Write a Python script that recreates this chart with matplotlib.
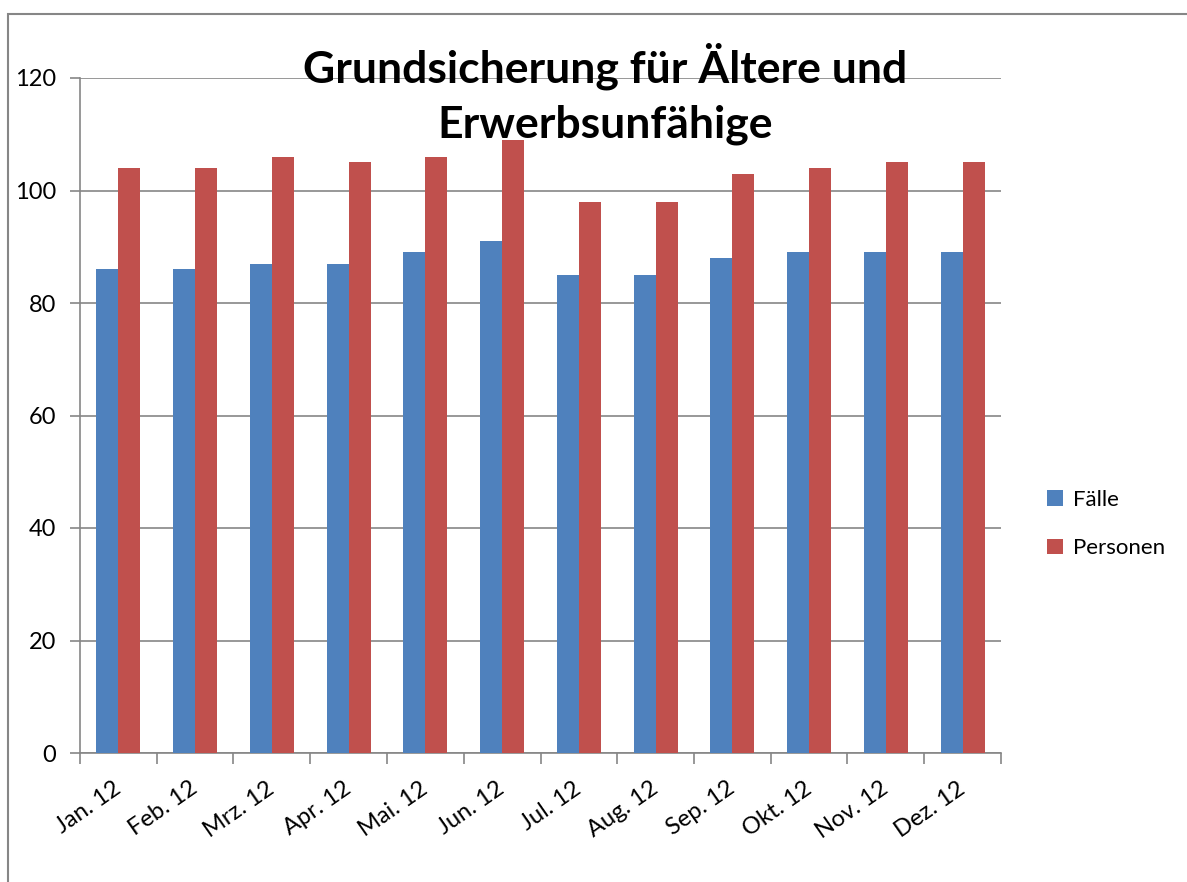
import matplotlib
matplotlib.use("Agg")
import matplotlib.pyplot as plt
import numpy as np
from matplotlib.patches import Rectangle

months = ["Jan. 12", "Feb. 12", "Mrz. 12", "Apr. 12", "Mai. 12", "Jun. 12",
          "Jul. 12", "Aug. 12", "Sep. 12", "Okt. 12", "Nov. 12", "Dez. 12"]
faelle = [86, 86, 87, 87, 89, 91, 85, 85, 88, 89, 89, 89]
personen = [104, 104, 106, 105, 106, 109, 98, 98, 103, 104, 105, 105]
yticks = [0, 20, 40, 60, 80, 100, 120]

plt.rcParams['font.family'] = ['Lato', 'DejaVu Sans']

W, H = 1187, 882
fig = plt.figure(figsize=(W / 100, H / 100), dpi=100)
fig.patch.set_facecolor('white')

# outer chart frame
fig.add_artist(Rectangle((8 / W, -0.2), 2.0, 1 - 14 / H + 0.2, transform=fig.transFigure,
                         fill=False, edgecolor='#868686', linewidth=1.5))

left, right, top, bottom = 80 / W, 1001 / W, 1 - 78 / H, 1 - 753 / H
ax = fig.add_axes([left, bottom, right - left, top - bottom])

grid_c = '#868686'
x = np.arange(len(months))
bw = 1 / 3.5
ax.bar(x - bw / 2, faelle, width=bw, color='#4F81BD', label='Fälle', zorder=3)
ax.bar(x + bw / 2, personen, width=bw, color='#C0504D', label='Personen', zorder=3)

ax.set_xlim(-0.5, len(months) - 0.5)
ax.set_ylim(0, 120)
ax.set_yticks(yticks)
ax.set_yticklabels([str(v) for v in yticks], fontsize=17)
ax.yaxis.grid(True, color=grid_c, linewidth=1.2, zorder=0)
ax.set_axisbelow(True)

ax.set_xticks(np.arange(len(months) + 1) - 0.5)
ax.set_xticklabels([])
ax.set_xticks(x, minor=True)
ax.set_xticklabels(months, minor=True, rotation=35, ha='right', va='center',
                   rotation_mode='anchor', fontsize=17)
ax.tick_params(axis='x', which='minor', length=0, pad=24)
ax.tick_params(axis='x', which='major', length=8, color=grid_c, width=1.2, direction='out')
ax.tick_params(axis='y', length=7, color=grid_c, width=1.2, direction='out', pad=10)

for s in ['top', 'right']:
    ax.spines[s].set_visible(False)
for s in ['left', 'bottom']:
    ax.spines[s].set_color(grid_c)
    ax.spines[s].set_linewidth(1.2)

fig.text(605 / W, 1 - 94 / H, "Grundsicherung für Ältere und\nErwerbsunfähige",
         ha='center', va='center', fontsize=32, fontweight='bold',
         linespacing=1.45, zorder=10)

fig.legend(loc='center left', bbox_to_anchor=(1047 / W, 1 - 524 / H), frameon=False,
           fontsize=16, handlelength=0.7, handleheight=0.7, handletextpad=0.45,
           labelspacing=1.3, borderpad=0, borderaxespad=0)

fig.savefig("out.png", dpi=100, facecolor='white')
